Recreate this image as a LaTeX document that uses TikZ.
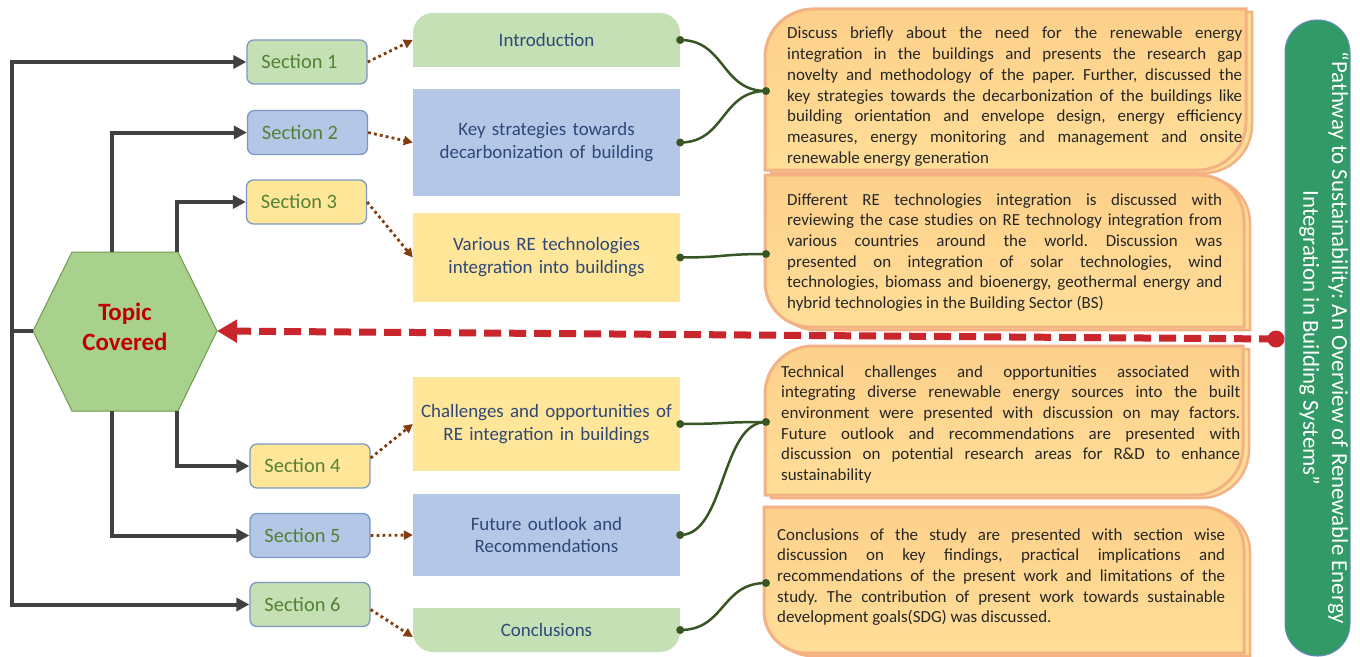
\documentclass[tikz,border=0pt]{standalone}
\usepackage{fontspec}
\setmainfont{Carlito}
\usetikzlibrary{arrows.meta}

\definecolor{lineGray}{HTML}{404040}
\definecolor{secText}{HTML}{548235}
\definecolor{secBorder}{HTML}{7C98C4}
\definecolor{fillG}{HTML}{C5E0B4}
\definecolor{fillB}{HTML}{B4C7E7}
\definecolor{fillY}{HTML}{FFE699}
\definecolor{hexFill}{HTML}{A9D18E}
\definecolor{hexBorder}{HTML}{6E9A4E}
\definecolor{topicRed}{HTML}{C00000}
\definecolor{midText}{HTML}{2F4878}
\definecolor{brownC}{HTML}{843C0C}
\definecolor{connGreen}{HTML}{375623}
\definecolor{redC}{HTML}{C9252C}
\definecolor{orBorder}{HTML}{F4B183}
\definecolor{orTop}{HTML}{FDD08A}
\definecolor{orBottom}{HTML}{FFDE98}
\definecolor{txtC}{HTML}{262626}
\definecolor{titleGreen}{HTML}{319A67}
\definecolor{titleBorder}{HTML}{6A8CBF}

\frenchspacing

% justified line of fixed width, and a last (ragged) line
\newcommand\jl[1]{\hbox to\hsize{#1}}
\newcommand\lastline[1]{\hbox{#1}}

% outline with rounded top-left and bottom-right corners
\newcommand\pathA[5]{(#1,#2+#5) .. controls (#1,#2+0.45*#5) and (#1+0.45*#5,#2) .. (#1+#5,#2) -- (#3,#2) -- (#3,#4-#5) .. controls (#3,#4-0.45*#5) and (#3-0.45*#5,#4) .. (#3-#5,#4) -- (#1,#4) -- cycle}
% outline with rounded top-right and bottom-left corners
\newcommand\pathB[5]{(#1,#2) -- (#3-#5,#2) .. controls (#3-0.45*#5,#2) and (#3,#2+0.45*#5) .. (#3,#2+#5) -- (#3,#4) -- (#1+#5,#4) .. controls (#1+0.45*#5,#4) and (#1,#4-0.45*#5) .. (#1,#4-#5) -- cycle}

\tikzset{
  secbox/.style={draw=secBorder, line width=1.3bp, rounded corners=7bp,
    minimum width=120bp, minimum height=44bp, inner sep=0pt, text=secText,
    font=\fontsize{20.5}{24}\selectfont, execute at end node={\kern15bp}},
  midbox/.style={minimum width=267bp, text width=260bp, align=center,
    inner sep=0pt, text=midText, font=\fontsize{19}{23}\selectfont},
  conn/.style={draw=lineGray, line width=4bp, -{Triangle[length=13bp,width=13bp]}},
  dotarrow/.style={draw=brownC, line width=2.8bp, dash pattern=on 2.8bp off 3.2bp,
    -{Triangle[length=9bp,width=9bp]}},
  gconn/.style={draw=connGreen, line width=2.5bp},
  redline/.style={draw=redC, line width=7bp, dash pattern=on 17bp off 8bp,
    -{Triangle[length=20bp,width=22bp]}},
  oback/.style={draw=orBorder, line width=2.5bp, fill=orBottom},
  ofront/.style={draw=orBorder, line width=3bp, top color=orTop, bottom color=orBottom},
  otext/.style={anchor=base west, inner sep=0pt, text=txtC,
    font=\fontsize{17}{20.8}\selectfont},
}

\begin{document}
\begin{tikzpicture}[x=1bp, y=-1bp]
\useasboundingbox (0,0) rectangle (1360,657);
\fill[white] (0,0) rectangle (1360,657);

% hexagon "Topic Covered"
\coordinate (hexL) at (33,331);
\coordinate (hexR) at (217,331);
\coordinate (busL) at (12,331);
\coordinate (h2t) at (112,252);
\coordinate (h3t) at (177,252);
\coordinate (h4b) at (177,411);
\coordinate (h5b) at (112,411);
\draw[fill=hexFill, draw=hexBorder, line width=1bp]
  (hexL) -- (72,252) -- (178,252) -- (hexR) -- (178,411) -- (72,411) -- cycle;
\node[font=\fontsize{25}{30}\selectfont\bfseries, text=topicRed, align=center]
  (topic) at (125,327) {Topic\\Covered};

% section boxes
\node[secbox, fill=fillG] (s1) at (307,62) {Section 1};
\node[secbox, fill=fillB] (s2) at (307.5,132.5) {Section 2};
\node[secbox, fill=fillY] (s3) at (306.5,202) {Section 3};
\node[secbox, fill=fillY] (s4) at (310,466) {Section 4};
\node[secbox, fill=fillB] (s5) at (310,535.5) {Section 5};
\node[secbox, fill=fillG] (s6) at (310,604.5) {Section 6};

% tree from the hexagon to the sections
\draw[lineGray, line width=4bp] (hexL) -- (busL);
\draw[conn] (busL) |- (s1.west);
\draw[conn] (busL) |- (s6.west);
\draw[conn] (h2t) |- (s2.west);
\draw[conn] (h3t) |- (s3.west);
\draw[conn] (h4b) |- (s4.west);
\draw[conn] (h5b) |- (s5.west);

% chapter boxes
\fill[fillG, rounded corners=20bp] (413,13) rectangle (680,67);
\fill[fillG] (413,40) rectangle (680,67);
\fill[fillB] (413,89) rectangle (680,196);
\fill[fillY] (413,213) rectangle (680,302);
\fill[fillY] (413,377) rectangle (680,471);
\fill[fillB] (413,494) rectangle (680,576);
\fill[fillG, rounded corners=20bp] (413,608) rectangle (680,652);
\fill[fillG] (413,608) rectangle (680,630);

\node[midbox, minimum height=54bp] (intro) at (546.5,40) {Introduction};
\node[midbox, minimum height=107bp] (key) at (546.5,142.5) {Key strategies towards\\decarbonization of building};
\node[midbox, minimum height=89bp] (various) at (546.5,257.5) {Various RE technologies\\integration into buildings};
\node[midbox, minimum height=94bp] (chall) at (546.5,424) {Challenges and opportunities of\\RE integration in buildings};
\node[midbox, minimum height=82bp] (future) at (546.5,535) {Future outlook and\\Recommendations};
\node[midbox, minimum height=44bp] (concl) at (546.5,630) {Conclusions};

% dotted links from sections to chapters
\draw[dotarrow] (s1.east) -- (intro.west);
\draw[dotarrow] (s2.east) -- (key.west);
\draw[dotarrow] (s3.east) -- (various.west);
\draw[dotarrow] ([yshift=8bp]s4.east) -- (chall.west);
\draw[dotarrow] (s5.east) -- (future.west);
\draw[dotarrow] ([yshift=-5bp]s6.east) -- ([yshift=-7bp]concl.west);

% description boxes
\draw[oback, shift={(6,3)}] \pathA{765}{9}{1246}{170}{48};
\draw[ofront] \pathA{765}{9}{1246}{170}{48};
\draw[oback, shift={(6,3)}] \pathB{765}{175}{1244}{327}{45};
\draw[ofront] \pathB{765}{175}{1244}{327}{45};
\draw[oback, shift={(6,3)}] \pathA{765}{346}{1243}{495}{48};
\draw[ofront] \pathA{765}{346}{1243}{495}{48};
\draw[oback, shift={(6,3)}] \pathB{764}{507}{1244}{653}{42};
\draw[ofront] \pathB{764}{507}{1244}{653}{42};

\node[otext] (d1) at (787,39) {\vtop{\hsize=455bp
  \jl{Discuss briefly about the need for the renewable energy}
  \jl{integration in the buildings and presents the research gap}
  \jl{novelty and methodology of the paper. Further, discussed the}
  \jl{key strategies towards the decarbonization of the buildings like}
  \jl{building orientation and envelope design, energy efficiency}
  \jl{measures, energy monitoring and management and onsite}
  \lastline{renewable energy generation}}};
\node[otext] (d2) at (787,205) {\vtop{\hsize=435bp
  \jl{Different RE technologies integration is discussed with}
  \jl{reviewing the case studies on RE technology integration from}
  \jl{various countries around the world. Discussion was}
  \jl{presented on integration of solar technologies, wind}
  \jl{technologies, biomass and bioenergy, geothermal energy and}
  \lastline{hybrid technologies in the Building Sector (BS)}}};
\node[otext] (d3) at (781,377) {\vtop{\hsize=459bp
  \jl{Technical challenges and opportunities associated with}
  \jl{integrating diverse renewable energy sources into the built}
  \jl{environment were presented with discussion on may factors.}
  \jl{Future outlook and recommendations are presented with}
  \jl{discussion on potential research areas for R\&D to enhance}
  \lastline{sustainability}}};
\node[otext] (d4) at (777,540) {\vtop{\hsize=448bp
  \jl{Conclusions of the study are presented with section wise}
  \jl{discussion on key findings, practical implications and}
  \jl{recommendations of the present work and limitations of the}
  \jl{study. The contribution of present work towards sustainable}
  \lastline{development goals(SDG) was discussed.}}};

% green links from chapters to descriptions
\coordinate (b1in) at (766,91);
\coordinate (b2in) at (766,254);
\coordinate (b3in) at (766,422);
\coordinate (b4in) at (766,583);
\draw[gconn] (intro.east) .. controls +(45,0) and +(-45,0) .. (b1in);
\draw[gconn] (key.east) .. controls +(45,0) and +(-45,0) .. (b1in);
\draw[gconn] (various.east) .. controls +(45,0) and +(-45,0) .. (b2in);
\draw[gconn] (chall.east) .. controls +(45,0) and +(-45,0) .. (b3in);
\draw[gconn] (future.east) .. controls +(45,0) and +(-45,0) .. (b3in);
\draw[gconn] (concl.east) .. controls +(45,0) and +(-45,0) .. (b4in);
\foreach \p in {intro.east, key.east, various.east, chall.east, future.east, concl.east, b1in, b2in, b3in, b4in}
  \fill[connGreen] (\p) circle (4bp);

% title banner
\node[draw=titleBorder, line width=1bp, fill=titleGreen, rounded corners=32bp,
  minimum width=636bp, minimum height=65bp, rotate=-90, inner sep=0pt]
  (title) at (1317.5,338) {};
\node[rotate=-90, inner sep=0pt, text=white, align=center,
  font=\fontsize{23}{29}\selectfont] (titletext) at (1324,338)
  {“Pathway to Sustainability: An Overview of Renewable Energy\\Integration in Building Systems”};

% dashed link from the title to the hexagon
\coordinate (dotR) at (1276,339);
\draw[redline] (dotR) -- (hexR);
\fill[redC] (dotR) circle (8.5bp);
\end{tikzpicture}
\end{document}
